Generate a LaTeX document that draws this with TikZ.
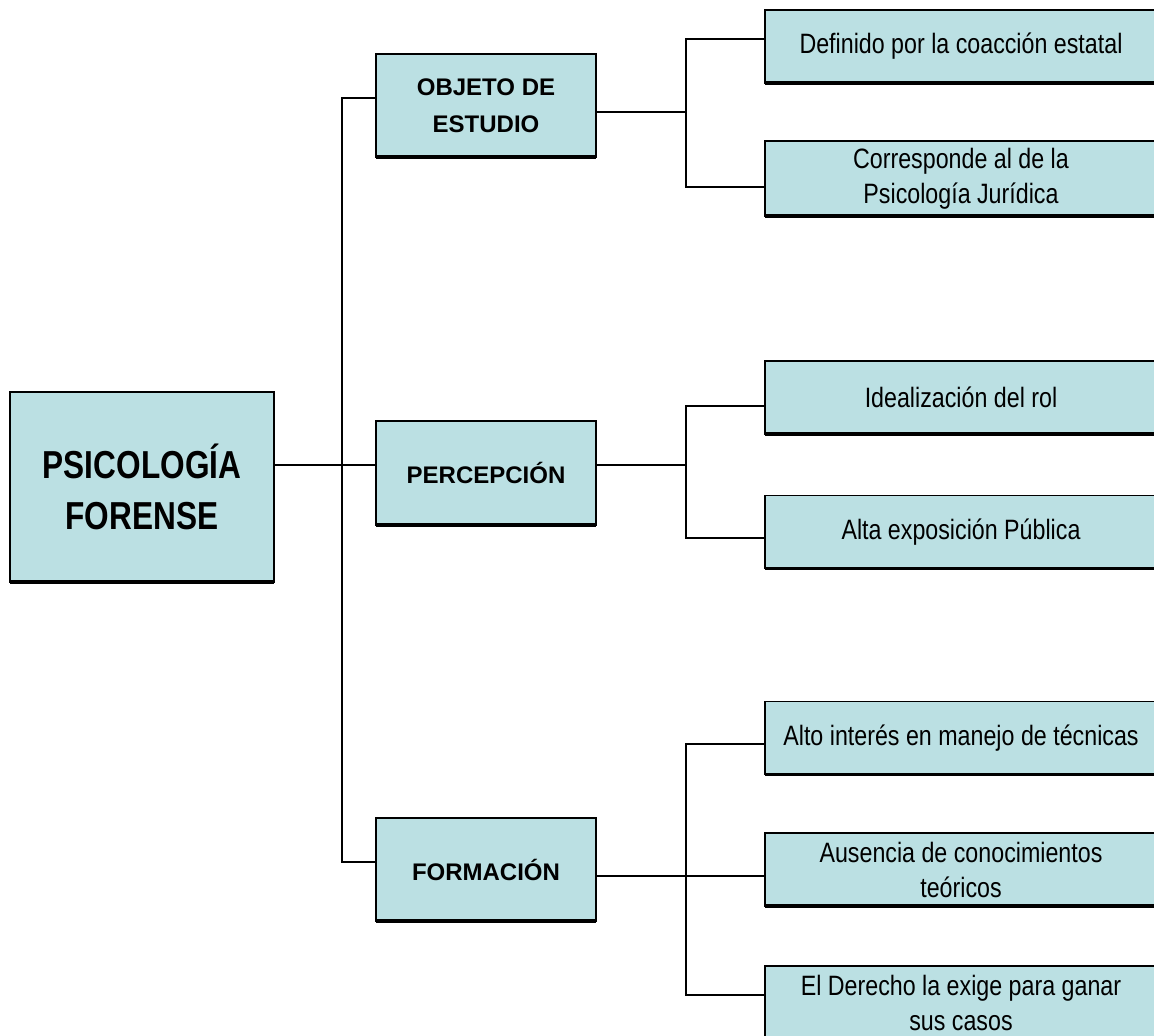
\documentclass[tikz,border=0pt]{standalone}
\usepackage{fontspec}
\setmainfont{Liberation Sans}
\newfontfamily\narrowfont[FakeStretch=0.83]{Liberation Sans}
\newfontfamily\rootfont[FakeStretch=0.81]{Liberation Sans}
\definecolor{boxblue}{RGB}{187,224,227}
\tikzset{
  boxbase/.style={draw=black, line width=1.3pt, fill=boxblue, inner sep=0pt, outer sep=0pt, align=center},
  rootbox/.style={boxbase, minimum width=264pt, minimum height=190pt, font=\rootfont\bfseries\fontsize{39}{51}\selectfont},
  midbox/.style={boxbase, minimum width=220pt, minimum height=103pt, font=\bfseries\fontsize{24}{37}\selectfont},
  leafbox/.style={boxbase, minimum width=392pt, minimum height=73pt, font=\narrowfont\fontsize{28}{35}\selectfont},
  conn/.style={line width=2.6pt, line cap=rect},
  shadowline/.style={line width=3.5pt}
}
\begin{document}
\begin{tikzpicture}[x=1pt,y=-1pt]
\useasboundingbox (0,0) rectangle (1154,1036);
\clip (0,0) rectangle (1154,1036);
% nodes
\node[rootbox] (root) at (142,487) {PSICOLOGÍA\\FORENSE};
\node[midbox] (ob) at (486,105.5) {OBJETO DE\\ESTUDIO};
\node[midbox, minimum height=104pt] (pe) at (486,473) {PERCEPCIÓN};
\node[midbox] (fo) at (486,869.5) {FORMACIÓN};
\node[leafbox] (r1) at (961,46.5) {Definido por la coacción estatal};
\node[leafbox, minimum height=75pt] (r2) at (961,178.5) {Corresponde al de la\\Psicología Jurídica};
\node[leafbox] (r3) at (961,397.5) {Idealización del rol};
\node[leafbox] (r4) at (961,532) {Alta exposición Pública};
\node[leafbox] (r5) at (961,738) {Alto interés en manejo de técnicas};
\node[leafbox] (r6) at (961,869.5) {Ausencia de conocimientos\\teóricos};
\node[leafbox] (r7) at (961,1002.5) {El Derecho la exige para ganar\\sus casos};
\foreach \n in {root,ob,pe,fo,r1,r2,r3,r4,r5,r6,r7}
  \draw[shadowline] (\n.south west) -- (\n.south east);
% junction coordinates
\coordinate (t0) at (342,465);
\coordinate (t1) at (342,98);
\coordinate (t2) at (342,862);
\coordinate (g1) at (686,112);
\coordinate (g1a) at (686,39);
\coordinate (g1b) at (686,187);
\coordinate (g2) at (686,465);
\coordinate (g2a) at (686,406);
\coordinate (g2b) at (686,538);
\coordinate (g3) at (686,876);
\coordinate (g3a) at (686,744);
\coordinate (g3b) at (686,995);
% connectors
\draw[conn] (t0 -| root.east) -- (t0 -| pe.west);
\draw[conn] (t1 -| ob.west) -- (t1) -- (t2) -- (t2 -| fo.west);
\draw[conn] (g1 -| ob.east) -- (g1);
\draw[conn] (g1a -| r1.west) -- (g1a) -- (g1b) -- (g1b -| r2.west);
\draw[conn] (g2 -| pe.east) -- (g2);
\draw[conn] (g2a -| r3.west) -- (g2a) -- (g2b) -- (g2b -| r4.west);
\draw[conn] (g3 -| fo.east) -- (g3 -| r6.west);
\draw[conn] (g3a -| r5.west) -- (g3a) -- (g3b) -- (g3b -| r7.west);
\end{tikzpicture}
\end{document}
